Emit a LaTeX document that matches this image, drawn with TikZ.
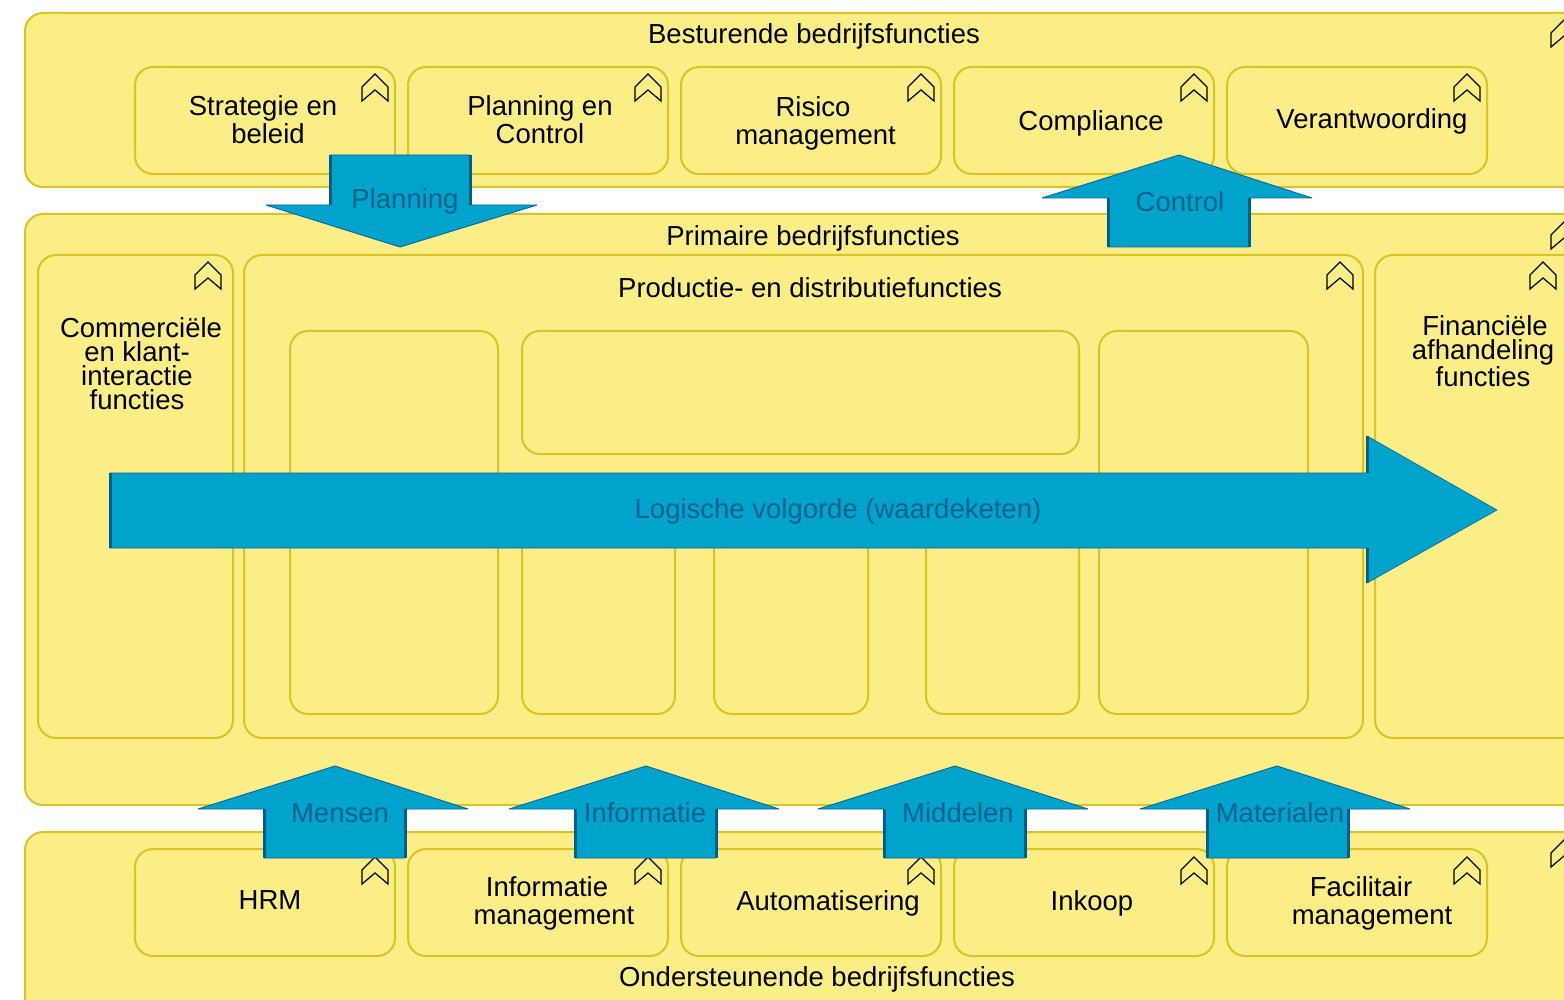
\documentclass[tikz,border=0pt]{standalone}
\usepackage{fontspec}
\setmainfont{Liberation Sans}
\definecolor{boxfill}{HTML}{FBEE87}
\definecolor{boxline}{HTML}{D9C421}
\definecolor{arrowfill}{HTML}{00A3CC}
\definecolor{arrowline}{HTML}{006699}
\definecolor{arrowdark}{HTML}{005E8C}
\definecolor{arrowtext}{HTML}{00638F}
\newcommand{\bx}[6][18]{% radius, name, x1,y1,x2,y2
  \draw[funcbox,rounded corners=#1] (#3,#4) rectangle (#5,#6) coordinate (#2);}
\newcommand{\chev}[2]{% top apex x,y
  \draw[chevron] (#1-13,#2+27) -- (#1-13,#2+13) -- (#1,#2) -- (#1+13,#2+13) -- (#1+13,#2+27) -- (#1,#2+16) -- cycle;}
\newcommand{\uparr}[3]{% apex x, shaft left x, apex y
  \fill[arrowbody] (#2,#3+92) -- (#2,#3+43) -- (#1-137,#3+43) -- (#1,#3) -- (#1+133,#3+43) -- (#2+141,#3+43) -- (#2+141,#3+92) -- cycle;
  \draw[arrowedge] (#2,#3+92) -- (#2,#3+43) -- (#1-137,#3+43) -- (#1,#3) -- (#1+133,#3+43) -- (#2+141,#3+43) -- (#2+141,#3+92) -- cycle;
  \draw[arrowheavy] (#2,#3+43) -- (#2,#3+92) (#2+141,#3+43) -- (#2+141,#3+92);}
\newcommand{\lsh}[1]{\hspace*{#1pt}}
\tikzset{
  funcbox/.style={draw=boxline,fill=boxfill,line width=2pt},
  chevron/.style={draw=black,fill=boxfill,line width=1.2pt,line join=miter},
  arrowbody/.style={fill=arrowfill},
  arrowedge/.style={draw=arrowline,line width=0.9pt,line join=bevel},
  arrowheavy/.style={draw=arrowdark,line width=3pt},
  lbl/.style={font=\fontsize{27.5}{28}\selectfont,text=black,align=center,inner sep=0pt},
  tight/.style={font=\fontsize{27.5}{24}\selectfont},
  alb/.style={font=\fontsize{27.5}{28}\selectfont,text=arrowtext,inner sep=0pt},
}
\begin{document}
\begin{tikzpicture}[x=1pt,y=-1pt]
\useasboundingbox (0,0) rectangle (1564,1000);
\clip (0,0) rectangle (1564,1000);
% groups
\bx{gtop}{25}{13}{1595}{187}
\bx{gprim}{25}{214}{1595}{805}
\bx{gbot}{25}{832}{1595}{1015}
\chev{1564}{20}\chev{1564}{222}\chev{1564}{840}
% top row
\foreach \n/\x in {t1/135,t2/408,t3/681,t4/954,t5/1227}{
  \bx{\n}{\x}{67}{\x+260}{174}
  \chev{\x+240}{74}
}
% bottom row
\foreach \n/\x in {b1/135,b2/408,b3/681,b4/954,b5/1227}{
  \bx{\n}{\x}{849}{\x+260}{956}
  \chev{\x+240}{857}
}
% primary
\bx{pc}{38}{255}{233}{738}
\bx{pp}{244}{255}{1363}{738}
\bx{pf}{1375}{255}{1600}{738}
\chev{208}{262}\chev{1340}{262}\chev{1543}{262}
\bx{i1}{290}{331}{498}{714}
\bx{i2}{522}{331}{1079}{454}
\bx{i3}{522}{490}{675}{714}
\bx{i4}{714}{490}{868}{714}
\bx{i5}{926}{490}{1079}{714}
\bx{i6}{1099}{331}{1308}{714}
% labels
\node[lbl] (lgt) at (814,36) {Besturende bedrijfsfuncties};
\node[lbl] (lgp) at (813,238) {Primaire bedrijfsfuncties};
\node[lbl] (lgb) at (817,979) {Ondersteunende bedrijfsfuncties};
\node[lbl] (lpp) at (810,288) {Productie- en distributiefuncties};
\node[lbl] (l1) at (263,120) {Strategie en\\\lsh{10}beleid};
\node[lbl] (l2) at (540,120) {Planning en\\Control};
\node[lbl] (l3) at (813,123) {Risico\\\lsh{5}management};
\node[lbl] (l4) at (1091,123) {Compliance};
\node[lbl] (l5) at (1372,121) {Verantwoording};
\node[lbl] (l6) at (270,900) {HRM};
\node[lbl] (l7) at (547,903) {Informatie\\\lsh{14}management};
\node[lbl] (l8) at (828,903) {Automatisering};
\node[lbl] (l9) at (1092,903) {Inkoop};
\node[lbl] (l10) at (1361,903) {Facilitair\\\lsh{22}management};
\node[lbl,tight] (lpc) at (137,364) {\lsh{8}Commerciële\\en klant-\\interactie\\functies};
\node[lbl,tight] (lpf) at (1483,351) {\lsh{4}Financiële\\afhandeling\\functies};
% arrows
\fill[arrowbody] (330,155) -- (470,155) -- (470,205) -- (537,205) -- (400,247) -- (266,205) -- (330,205) -- cycle;
\draw[arrowedge] (330,155) -- (470,155) -- (470,205) -- (537,205) -- (400,247) -- (266,205) -- (330,205) -- cycle;
\draw[arrowheavy] (330,155) -- (330,205) (470,155) -- (470,205);
\node[alb] (aplan) at (405,201) {Planning};
\uparr{1179}{1108}{155}
\node[alb] (actrl) at (1180,202) {Control};
\uparr{335}{264}{766}
\node[alb] (amen) at (340,813) {Mensen};
\uparr{646}{575}{766}
\node[alb] (ainf) at (645,813) {Informatie};
\uparr{955}{884}{766}
\node[alb] (amid) at (958,813) {Middelen};
\uparr{1277}{1207}{766}
\node[alb] (amat) at (1280,813) {Materialen};
% main arrow
\fill[arrowbody] (110,473) -- (1367,473) -- (1367,436) -- (1497,510) -- (1367,583) -- (1367,548) -- (110,548) -- cycle;
\draw[arrowedge,line width=0.6pt] (110,473) -- (1367,473) -- (1367,436) -- (1497,510) -- (1367,583) -- (1367,548) -- (110,548) -- cycle;
\draw[arrowheavy] (110,473) -- (110,548) (1367,436) -- (1367,473) (1367,548) -- (1367,583);
\node[alb] (amain) at (838,511) {Logische volgorde (waardeketen)};
\end{tikzpicture}
\end{document}
